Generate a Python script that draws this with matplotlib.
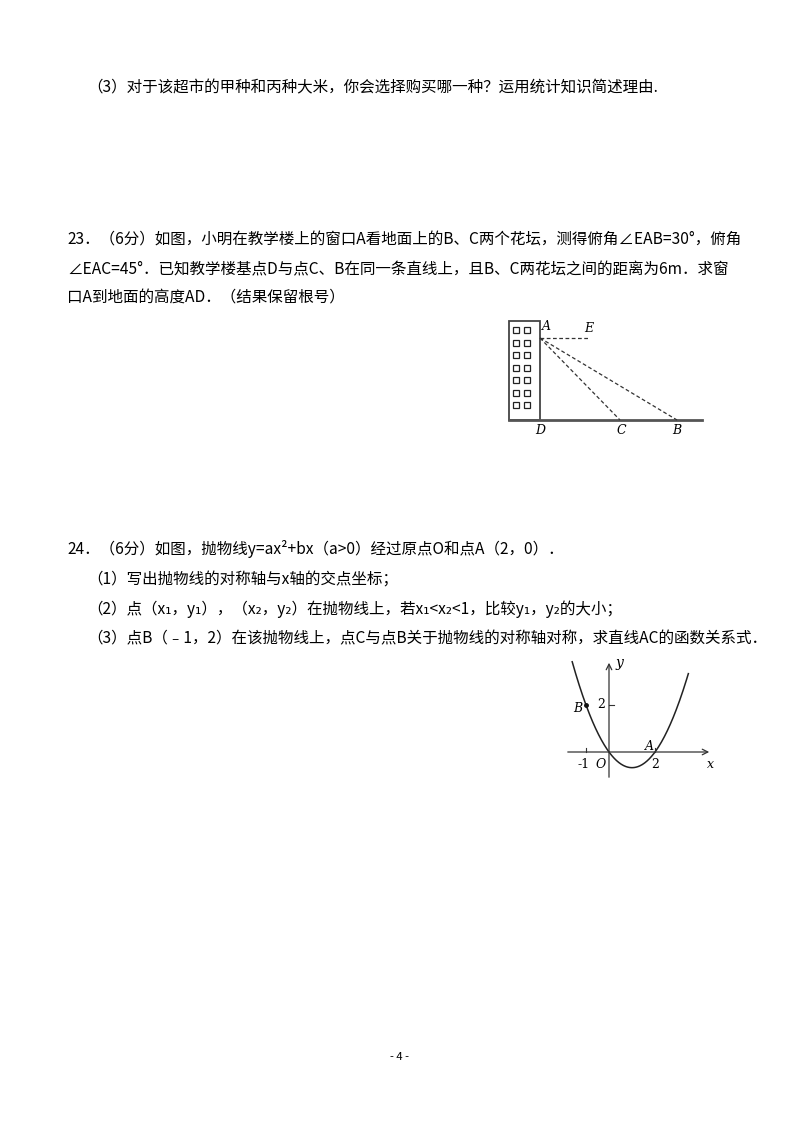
import numpy as np
import matplotlib
matplotlib.use("Agg")
import matplotlib.pyplot as plt
from matplotlib.patches import Rectangle

plt.rcParams['font.family'] = ['Noto Sans CJK SC', 'DejaVu Sans']

lines = [
    (87, 88, "（3）对于该超市的甲种和丙种大米，你会选择购买哪一种？运用统计知识简述理由."),
    (67, 240, "23．（6分）如图，小明在教学楼上的窗口A看地面上的B、C两个花坛，测得俯角∠EAB=30°，俯角"),
    (67, 270, "∠EAC=45°．已知教学楼基点D与点C、B在同一条直线上，且B、C两花坛之间的距离为6m．求窗"),
    (67, 298, "口A到地面的高度AD．（结果保留根号）"),
    (67, 549, "24．（6分）如图，抛物线y=ax²+bx（a>0）经过原点O和点A（2，0）．"),
    (87, 580, "（1）写出抛物线的对称轴与x轴的交点坐标；"),
    (87, 609, "（2）点（x₁，y₁），（x₂，y₂）在抛物线上，若x₁<x₂<1，比较y₁，y₂的大小；"),
    (87, 639, "（3）点B（﹣1，2）在该抛物线上，点C与点B关于抛物线的对称轴对称，求直线AC的函数关系式．"),
]

# building figure points (pixel coords)
bld_x, bld_y, bld_w, bld_h = 509, 321, 31, 99
ground = ([509, 702], [420, 420])
pt_A = (540, 338); pt_E = (590, 338); pt_C = (620, 420); pt_B = (677, 420); pt_D = (540, 420)

# parabola y = a x^2 + b x
a_coef, b_coef = 2/3, -4/3
ox, oy, ux, uy = 609, 752, 23.0, 23.5
x_ticks = [-1, 2]
y_ticks = [2]
pB = (-1, 2)

fig = plt.figure(figsize=(8, 11.32), dpi=100)
ax = fig.add_axes([0, 0, 1, 1])
ax.set_xlim(0, 800); ax.set_ylim(1132, 0); ax.axis('off')

for x, y, t in lines:
    ax.text(x, y, t, fontsize=11.2, va='center', ha='left', color='black')
ax.text(400, 1057, "- 4 -", fontsize=8, ha='center', va='center')

# building
ax.add_patch(Rectangle((bld_x, bld_y), bld_w, bld_h, fill=False, lw=1.3, ec='#444'))
ax.plot(*ground, color='#555', lw=2)
for r in range(7):
    for c in range(2):
        ax.add_patch(Rectangle((513 + c*11, 327 + r*12.5), 6, 6, fill=False, lw=0.9, ec='#222'))
ax.plot([pt_A[0], pt_E[0]], [pt_A[1], pt_E[1]], ls=(0, (3, 2)), color='#333', lw=0.9)
ax.plot([pt_A[0], pt_C[0]], [pt_A[1], pt_C[1]], ls=(0, (3, 2)), color='#333', lw=0.9)
ax.plot([pt_A[0], pt_B[0]], [pt_A[1], pt_B[1]], ls=(0, (3, 2)), color='#333', lw=0.9)
for lab, (x, y) in {"A": (546, 327), "E": (589, 329), "D": (540, 431), "C": (621, 431), "B": (677, 431)}.items():
    ax.text(x, y, lab, fontsize=9, style='italic', family='DejaVu Serif', ha='center', va='center')

# parabola figure
def px(x): return ox + x*ux
def py(y): return oy - y*uy
xs = np.linspace(-1.6, 3.45, 200)
ax.plot(px(xs), py(a_coef*xs**2 + b_coef*xs), color='#222', lw=1.1)
ax.annotate("", xy=(712, oy), xytext=(565, oy), arrowprops=dict(arrowstyle='->', lw=0.9, color='#333'))
ax.annotate("", xy=(ox, 660), xytext=(ox, 780), arrowprops=dict(arrowstyle='->', lw=0.9, color='#333'))
for t in x_ticks:
    ax.plot([px(t), px(t)], [oy, oy-4], color='#333', lw=0.8)
    ax.text(px(t)+(-2 if t < 0 else 0), oy+12, str(t), fontsize=9, family='DejaVu Serif', ha='center', va='center')
for t in y_ticks:
    ax.plot([ox, ox+5], [py(t), py(t)], color='#333', lw=0.8)
    ax.text(ox-8, py(t), str(t), fontsize=9, family='DejaVu Serif', ha='center', va='center')
ax.plot(px(pB[0]), py(pB[1]), 'o', ms=2.5, color='#111')
ax.text(px(pB[0])-8, py(pB[1])+4, "B", fontsize=9, style='italic', family='DejaVu Serif', ha='center', va='center')
ax.text(ox-8, oy+12, "O", fontsize=9, style='italic', family='DejaVu Serif', ha='center', va='center')
ax.text(px(2)-6, oy-6, "A", fontsize=9, style='italic', family='DejaVu Serif', ha='center', va='center')
ax.text(710, oy+12, "x", fontsize=9, style='italic', family='DejaVu Serif', ha='center', va='center')
ax.text(ox+10, 663, "y", fontsize=10, style='italic', family='DejaVu Serif', ha='center', va='center')

fig.savefig("out.png", dpi=100, facecolor='white')
